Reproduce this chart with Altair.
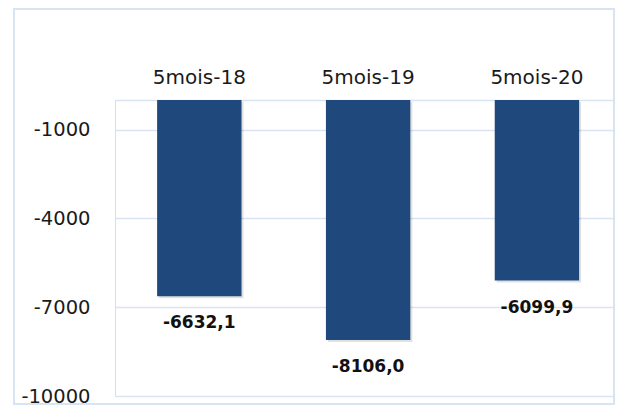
import altair as alt
import pandas as pd

categories = ["5mois-18", "5mois-19", "5mois-20"]
values = [-6632.1, -8106.0, -6099.9]
y_ticks = [-10000, -7000, -4000, -1000]

df = pd.DataFrame({"cat": categories, "val": values})

FONT = "DejaVu Sans"
BAR = "#1f497d"
GRID = "#d9e4f2"

W, H = 500, 296

x = alt.X("cat:N", sort=categories, title=None,
          scale=alt.Scale(paddingInner=0.5, paddingOuter=0.231, align=0.54),
          axis=alt.Axis(orient="top", domain=True, domainColor=GRID, domainWidth=1.5,
                        ticks=False, labelPadding=13, labelFontSize=20, labelFont=FONT,
                        labelColor="#1a1a1a", labelAngle=0))
y = alt.Y("val:Q", title=None,
          scale=alt.Scale(domain=[-10000, 0], nice=False, zero=True),
          axis=alt.Axis(values=y_ticks, domain=False, ticks=False, labelPadding=25,
                        labelExpr="'' + datum.value",
                        labelFontSize=19.5, labelFont=FONT, labelColor="#1a1a1a",
                        gridColor=GRID, gridWidth=1.5, labelBaseline="middle"))

border = alt.Chart(pd.DataFrame({"a": [0]})).mark_rect(
    fill=None, stroke=GRID, strokeWidth=2
).encode(x=alt.value(-101), x2=alt.value(499), y=alt.value(-91), y2=alt.value(304))

shadow = alt.Chart(df).mark_bar(color="#000000", opacity=0.12, xOffset=2, yOffset=2).encode(
    x=x, y=y)

bars = alt.Chart(df).mark_bar(color=BAR).encode(x=x, y=y)

labels = alt.Chart(df).transform_calculate(
    lab="replace(replace(format(datum.val, '.1f'), '.', ','), '\u2212', '-')"
).mark_text(font=FONT, fontSize=17, fontWeight="bold", color="#111111",
            baseline="middle", dy=27).encode(
    x=alt.X("cat:N", sort=categories), y="val:Q", text="lab:N")

chart = alt.layer(border, shadow, bars, labels).properties(
    width=W, height=H,
    autosize=alt.AutoSizeParams(type="none"),
    padding={"left": 107, "top": 92, "right": 0, "bottom": 10},
).configure_view(stroke=None).configure(background="white")

chart.save("out.html", embed_options={"renderer": "svg", "actions": False})
